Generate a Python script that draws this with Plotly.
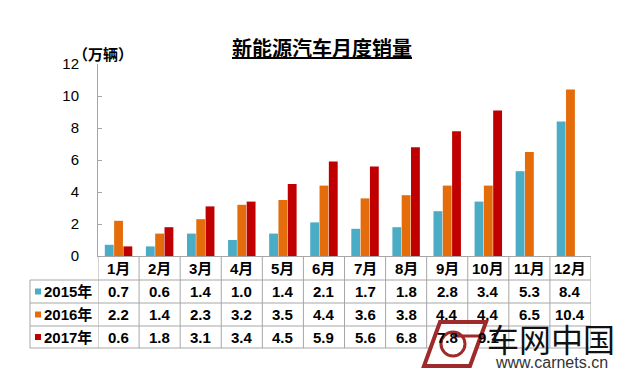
import plotly.graph_objects as go

# ---- data ----
months = ["1月", "2月", "3月", "4月", "5月", "6月", "7月", "8月", "9月", "10月", "11月", "12月"]
series_names = ["2015年", "2016年", "2017年"]
sales_2015 = [0.7, 0.6, 1.4, 1.0, 1.4, 2.1, 1.7, 1.8, 2.8, 3.4, 5.3, 8.4]
sales_2016 = [2.2, 1.4, 2.3, 3.2, 3.5, 4.4, 3.6, 3.8, 4.4, 4.4, 6.5, 10.4]
sales_2017 = [0.6, 1.8, 3.1, 3.4, 4.5, 5.9, 5.6, 6.8, 7.8, 9.1, None, None]
y_ticks = [0, 2, 4, 6, 8, 10, 12]

colors = ["#4BACC6", "#E46C0A", "#C00000"]
all_series = [sales_2015, sales_2016, sales_2017]

W, H = 621, 377
L, R, T, B = 98, 30, 64, 121
pw, ph = W - L - R, H - T - B


def px_x(x):
    return (x - L) / pw


def px_y(y):
    return (H - B - y) / ph


FONT = "Liberation Sans, Arial, Noto Sans CJK SC, sans-serif"


def label(x, y, text, size, xref="paper", xanchor="center", color="#000", family=FONT):
    return dict(x=x, y=y, xref=xref, yref="paper", xanchor=xanchor, yanchor="middle",
                text=text, showarrow=False, font=dict(family=family, size=size, color=color))


fig = go.Figure()
for name, vals, c in zip(series_names, all_series, colors):
    fig.add_trace(go.Bar(x=months, y=vals, name=name, marker_color=c,
                         marker_line_width=0))

shapes = []
annotations = []
grid = "#A6A6A6"

# horizontal table lines
for yp in [280, 303, 326, 348]:
    shapes.append(dict(type="line", xref="paper", yref="paper",
                       x0=px_x(30), x1=1.0, y0=px_y(yp), y1=px_y(yp),
                       line=dict(color=grid, width=1)))
# left border of legend column
shapes.append(dict(type="line", xref="paper", yref="paper",
                   x0=px_x(30), x1=px_x(30), y0=px_y(280), y1=px_y(348),
                   line=dict(color=grid, width=1)))
# vertical category borders
for i in range(len(months) + 1):
    shapes.append(dict(type="line", xref="x", yref="paper",
                       x0=i - 0.5, x1=i - 0.5, y0=0, y1=px_y(348),
                       line=dict(color=grid, width=1)))

# month header
for m in months:
    annotations.append(label(m, px_y(268), "<b>%s</b>" % m, 15, xref="x"))

row_y = [291.5, 314.5, 337]
for name, vals, c, ry in zip(series_names, all_series, colors, row_y):
    shapes.append(dict(type="rect", xref="paper", yref="paper",
                       x0=px_x(35), x1=px_x(41), y0=px_y(ry + 3), y1=px_y(ry - 3),
                       fillcolor=c, line=dict(width=0)))
    annotations.append(label(px_x(42), px_y(ry), "<b>%s</b>" % name, 15, xanchor="left"))
    for m, v in zip(months, vals):
        if v is None:
            continue
        annotations.append(label(m, px_y(ry), "<b>%.1f</b>" % v, 15, xref="x"))

# title and unit
annotations.append(label(px_x(322), px_y(48), "<b><u>新能源汽车月度销量</u></b>", 20))
annotations.append(label(px_x(103), px_y(54), "<b>（万辆）</b>", 15))

# watermark logo (approximate)
shapes.append(dict(type="path", xref="paper", yref="paper",
                   path="M %f,%f L %f,%f L %f,%f L %f,%f Z" % (
                       px_x(440), px_y(322), px_x(486), px_y(322),
                       px_x(470), px_y(366), px_x(424), px_y(366)),
                   fillcolor="rgba(255,255,255,0.85)",
                   line=dict(color="#9E2A2B", width=4)))
shapes.append(dict(type="circle", xref="paper", yref="paper",
                   x0=px_x(441), x1=px_x(465), y0=px_y(356), y1=px_y(332),
                   line=dict(color="#9E2A2B", width=3)))
shapes.append(dict(type="line", xref="paper", yref="paper",
                   x0=px_x(453), x1=px_x(484), y0=px_y(336), y1=px_y(336),
                   line=dict(color="#9E2A2B", width=3)))
annotations.append(label(px_x(551), px_y(338), "车网中国", 32, color="#111",
                         family="Noto Sans CJK SC"))
annotations.append(label(px_x(551), px_y(362), "www.carnets.cn", 16, color="#333"))

fig.update_layout(
    width=W, height=H, autosize=False,
    margin=dict(l=L, r=R, t=T, b=B, pad=0),
    paper_bgcolor="white", plot_bgcolor="white",
    showlegend=False,
    barmode="group", bargap=0.32, bargroupgap=0.05,
    shapes=shapes, annotations=annotations,
    xaxis=dict(range=[-0.5, 11.5], showticklabels=False, showgrid=False,
               showline=True, linecolor=grid, linewidth=1, ticks="",
               zeroline=False, fixedrange=True),
    yaxis=dict(range=[0, 12], tickvals=y_ticks, showgrid=False,
               showline=True, linecolor=grid, linewidth=1,
               ticks="inside", ticklen=4, tickcolor=grid,
               zeroline=False, ticklabelstandoff=15, fixedrange=True,
               tickfont=dict(family=FONT, size=15, color="#000"),
               tickprefix="<b>", ticksuffix="</b>"),
)

fig.write_html("out.html", config={"displayModeBar": False},
               post_script="document.body.style.margin='0';document.body.style.overflow='hidden';")
